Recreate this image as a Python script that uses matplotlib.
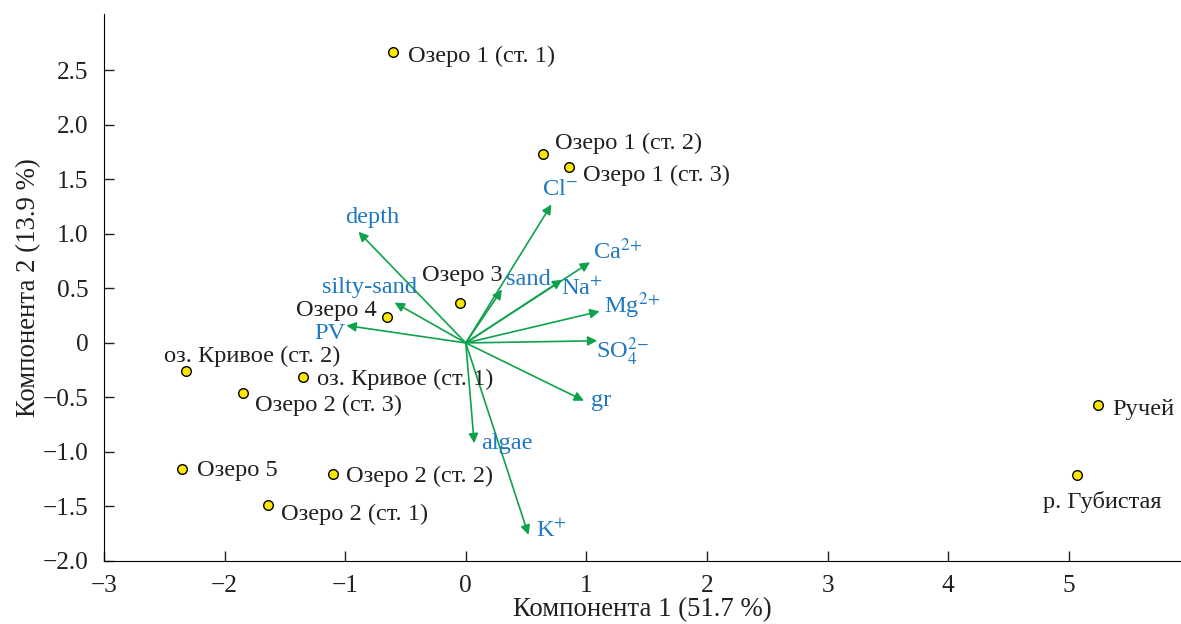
import matplotlib
matplotlib.use('Agg')
import matplotlib.pyplot as plt

# --- data: sites (PCA scores) ---
site_names = ["Озеро 1 (ст. 1)", "Озеро 1 (ст. 2)", "Озеро 1 (ст. 3)", "Озеро 3", "Озеро 4",
              "оз. Кривое (ст. 2)", "оз. Кривое (ст. 1)", "Озеро 2 (ст. 3)", "Озеро 5",
              "Озеро 2 (ст. 2)", "Озеро 2 (ст. 1)", "Ручей", "р. Губистая"]
site_x = [-0.60, 0.64, 0.86, -0.05, -0.65, -2.32, -1.35, -1.85, -2.35, -1.10, -1.64, 5.24, 5.07]
site_y = [2.67, 1.73, 1.61, 0.37, 0.24, -0.26, -0.31, -0.46, -1.16, -1.20, -1.49, -0.57, -1.21]

# --- data: variables (loadings) ---
var_names = ["depth", r"Cl$^{-}$", "silty-sand", "PV", "sand", r"Na$^{+}$", r"Ca$^{2\!+}$",
             r"Mg$^{2\!+}$", r"SO$_4^{2\!-}$", "gr", "algae", r"K$^{+}$"]
var_x = [-0.89, 0.71, -0.59, -0.99, 0.30, 0.80, 1.03, 1.11, 1.09, 0.98, 0.07, 0.52]
var_y = [1.02, 1.27, 0.37, 0.16, 0.49, 0.58, 0.74, 0.29, 0.02, -0.53, -0.92, -1.76]

x_ticks = [-3, -2, -1, 0, 1, 2, 3, 4, 5]
y_ticks = [-2.0, -1.5, -1.0, -0.5, 0, 0.5, 1.0, 1.5, 2.0, 2.5]
x_label = "Компонента 1 (51.7 %)"
y_label = "Компонента 2 (13.9 %)"

# label placement (text anchor point, alignment) - layout only
site_lbl = [(-0.48, 2.63, 'left'), (0.74, 1.83, 'left'), (0.97, 1.54, 'left'),
            (-0.03, 0.62, 'center'), (-0.74, 0.295, 'right'), (-1.04, -0.12, 'right'),
            (-1.23, -0.33, 'left'), (-1.75, -0.57, 'left'), (-2.23, -1.17, 'left'),
            (-0.99, -1.22, 'left'), (-1.53, -1.57, 'left'), (5.36, -0.61, 'left'),
            (5.28, -1.46, 'center')]
var_lbl = [(-0.78, 1.15), (0.78, 1.41), (-0.80, 0.505), (-1.13, 0.09), (0.52, 0.58),
           (0.96, 0.50), (1.26, 0.84), (1.38, 0.34), (1.30, -0.08), (1.12, -0.53),
           (0.34, -0.92), (0.71, -1.72)]

plt.rcParams['font.family'] = ['Liberation Serif', 'DejaVu Serif']
plt.rcParams['mathtext.fontset'] = 'stix'

green = '#0fa24c'
blue = '#1f78c1'
dark = '#231f20'
fs = 17.6

fig = plt.figure(figsize=(11.81, 6.24), dpi=100)
ax = fig.add_axes([0.088, 0.101, 0.912, 0.877])

for vx, vy in zip(var_x, var_y):
    ax.annotate('', xy=(vx, vy), xytext=(0, 0),
                arrowprops=dict(arrowstyle='-|>', color=green, lw=1.2,
                                mutation_scale=14, shrinkA=0, shrinkB=0))
for name, (lx, ly) in zip(var_names, var_lbl):
    ax.text(lx, ly, name, color=blue, fontsize=fs, ha='center', va='center')

ax.scatter(site_x, site_y, s=48, color='#ffe800', edgecolors='black', linewidths=1.0, zorder=5)
for name, (lx, ly, ha) in zip(site_names, site_lbl):
    ax.text(lx, ly, name, color=dark, fontsize=fs, ha=ha, va='center')

ax.set_xlim(-3, 5.93)
ax.set_ylim(-2.0, 3.02)
ax.set_xticks(x_ticks)
ax.set_yticks(y_ticks)
ax.set_xticklabels([f"{t:g}".replace('-', '\u2212') for t in x_ticks])
ax.set_yticklabels(["0" if t == 0 else f"{t:.1f}".replace('-', '\u2212') for t in y_ticks])
ax.spines['top'].set_visible(False)
ax.spines['right'].set_visible(False)
ax.tick_params(direction='in', length=7, width=1, labelsize=18.3, colors=dark)
ax.tick_params(axis='y', pad=11)
ax.tick_params(axis='x', pad=10)
ax.set_xlabel(x_label, fontsize=19.3, color=dark, labelpad=0)
ax.set_ylabel(y_label, fontsize=19.3, color=dark, labelpad=1)

fig.savefig('out.png', dpi=100)
